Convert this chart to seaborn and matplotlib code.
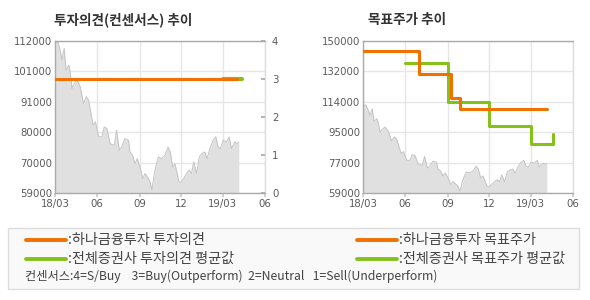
import matplotlib
matplotlib.use("Agg")
import matplotlib.pyplot as plt
import matplotlib.dates as mdates
from matplotlib.lines import Line2D
from matplotlib.patches import Rectangle
import seaborn as sns
import pandas as pd
import numpy as np

sns.set_theme(style="white")
plt.rcParams['font.family'] = ['Noto Sans CJK KR', 'DejaVu Sans']

# ---------------- data ----------------
price_dates = ['2018-03-02', '2018-03-07', '2018-03-13', '2018-03-16', '2018-03-21', '2018-03-25',
               '2018-03-31', '2018-04-03', '2018-04-07', '2018-04-12', '2018-04-18', '2018-04-25',
               '2018-05-02', '2018-05-08', '2018-05-13', '2018-05-17', '2018-05-23', '2018-05-28',
               '2018-06-04', '2018-06-11', '2018-06-16', '2018-06-22', '2018-06-29', '2018-07-08',
               '2018-07-13', '2018-07-19', '2018-07-24', '2018-07-31', '2018-08-08', '2018-08-11',
               '2018-08-17', '2018-08-22', '2018-08-27', '2018-09-02', '2018-09-08', '2018-09-13',
               '2018-09-18', '2018-09-23', '2018-09-28', '2018-10-03', '2018-10-07', '2018-10-12',
               '2018-10-19', '2018-10-26', '2018-11-02', '2018-11-07', '2018-11-12', '2018-11-17',
               '2018-11-22', '2018-11-26', '2018-12-01', '2018-12-06', '2018-12-12', '2018-12-18',
               '2018-12-23', '2018-12-28', '2019-01-03', '2019-01-09', '2019-01-14', '2019-01-21',
               '2019-01-26', '2019-02-01', '2019-02-08', '2019-02-14', '2019-02-19', '2019-02-24',
               '2019-03-02', '2019-03-09', '2019-03-15', '2019-03-20', '2019-03-27', '2019-04-01',
               '2019-04-05']
price_values = [111200, 111800, 108300, 105400, 109400, 101800,
                103600, 101300, 95400, 97200, 98400, 96000,
                90200, 92600, 91400, 87900, 82600, 83800,
                78600, 78600, 82000, 81500, 76200, 75600,
                80900, 73900, 75000, 78000, 77400, 73300,
                72100, 69200, 71000, 68000, 64000, 65800,
                64600, 63400, 60100, 65800, 68700, 71600,
                71000, 72100, 75000, 73300, 68000, 69200,
                65800, 62800, 62800, 64000, 65800, 67000,
                65800, 69900, 65800, 71600, 72700, 73300,
                71000, 74500, 77400, 78600, 75000, 74500,
                77400, 76800, 78600, 74500, 76800, 76200,
                76800]

# investment opinion (consensus scale 0-4)
hana_opinion_dates = ['2018-03-01', '2019-04-02']
hana_opinion_values = [3, 3]
avg_opinion_dates = ['2019-03-01', '2019-04-13']
avg_opinion_values = [3, 3]

# target price
hana_target_dates = ['2018-03-01', '2018-06-30', '2018-09-08', '2018-09-29', '2019-04-05']
hana_target_values = [144000, 130000, 116000, 109000, 109000]
avg_target_dates = ['2018-06-01', '2018-09-01', '2018-12-01', '2019-03-01', '2019-04-18']
avg_target_values = [137000, 113600, 99000, 88200, 94600]

x_tick_dates = ['2018-03-01', '2018-06-01', '2018-09-01', '2018-12-01', '2019-03-01', '2019-06-01']
x_tick_labels = ['18/03', '06', '09', '12', '19/03', '06']
left_y_labels = ['59000', '70000', '80000', '91000', '101000', '112000']
right_y_labels = ['59000', '77000', '95000', '114000', '132000', '150000']
opinion_ticks = [0, 1, 2, 3, 4]

titles = ['투자의견(컨센서스) 추이', '목표주가 추이']
legend_labels = [':하나금융투자 투자의견', ':전체증권사 투자의견 평균값',
                 ':하나금융투자 목표주가', ':전체증권사 목표주가 평균값']
consensus_note = '컨센서스:4=S/Buy    3=Buy(Outperform)  2=Neutral   1=Sell(Underperform)'

ORANGE = '#f07000'
GREEN = '#84c21a'
TICKC = '#5a5a5a'
TICKFONT = ['DejaVu Sans']
TICKSIZE = 7.3

price_df = pd.DataFrame({'date': pd.to_datetime(price_dates), 'price': price_values})
xt = pd.to_datetime(x_tick_dates)

fig = plt.figure(figsize=(5.9, 3.0), dpi=100)
fig.patch.set_facecolor('white')
axL = fig.add_axes([55 / 590, 1 - 193 / 300, 210 / 590, 152 / 300])
axR = fig.add_axes([363 / 590, 1 - 193 / 300, 210 / 590, 152 / 300])


def style_axes(ax, ylabels):
    lo, hi = float(ylabels[0]), float(ylabels[-1])
    ax.set_ylim(lo, hi)
    ax.set_xlim(xt[0], xt[-1])
    ax.set_xticks(xt)
    ax.set_xticklabels(x_tick_labels, family=TICKFONT, fontsize=TICKSIZE)
    ax.set_yticks(np.linspace(lo, hi, len(ylabels)))
    ax.set_yticklabels(ylabels, family=TICKFONT, fontsize=TICKSIZE)
    ax.grid(True, color='#e6e6e6', lw=1.0)
    ax.set_axisbelow(True)
    for s in ['left', 'bottom', 'top']:
        ax.spines[s].set_color('#aaaaaa')
        ax.spines[s].set_linewidth(1.0)
    ax.spines['right'].set_color('#dddddd')
    ax.spines['right'].set_linewidth(1.0)
    ax.tick_params(axis='y', length=0, labelcolor=TICKC, pad=2)
    ax.tick_params(axis='x', length=3, color='#cccccc', labelcolor=TICKC, pad=1, bottom=True)
    ax.set_xlabel('')
    ax.set_ylabel('')


for ax, ylabels in [(axL, left_y_labels), (axR, right_y_labels)]:
    ax.fill_between(price_df['date'], price_df['price'], float(ylabels[0]),
                    color='#e0e0e0', lw=0, zorder=1)
    sns.lineplot(data=price_df, x='date', y='price', ax=ax, color='#c4c4c4', lw=0.7, zorder=2)
    style_axes(ax, ylabels)

# secondary opinion axis
ax2 = axL.twinx()
ax2.set_ylim(0, 4)
ax2.set_yticks(opinion_ticks)
ax2.set_yticklabels([str(v) for v in opinion_ticks], family=TICKFONT, fontsize=TICKSIZE)
ax2.tick_params(axis='y', length=3, direction='in', color='#aaaaaa',
                labelcolor=TICKC, pad=5)
for s in ax2.spines.values():
    s.set_visible(False)
ax2.grid(False)
sns.lineplot(x=pd.to_datetime(avg_opinion_dates), y=avg_opinion_values, ax=ax2,
             color=GREEN, lw=3, zorder=3)
sns.lineplot(x=pd.to_datetime(hana_opinion_dates), y=hana_opinion_values, ax=ax2,
             color=ORANGE, lw=2.2, zorder=4)
ax2.set_xlim(xt[0], xt[-1])
ax2.set_ylabel('')

# target price lines
sns.lineplot(x=pd.to_datetime(hana_target_dates), y=hana_target_values, ax=axR,
             color=ORANGE, lw=2.2, drawstyle='steps-post', zorder=4)
sns.lineplot(x=pd.to_datetime(avg_target_dates), y=avg_target_values, ax=axR,
             color=GREEN, lw=2.2, drawstyle='steps-post', zorder=3)
style_axes(axR, right_y_labels)

# titles
fig.text(54 / 590, 1 - 20 / 300, titles[0], fontsize=9.8, fontweight='bold', color='#333333',
         va='center', ha='left')
fig.text(368 / 590, 1 - 20 / 300, titles[1], fontsize=9.8, fontweight='bold', color='#333333',
         va='center', ha='left')

# legend box
fig.add_artist(Rectangle((8 / 590, 1 - 289 / 300), 571 / 590, 61 / 300, transform=fig.transFigure,
                         facecolor='#f9f9f9', edgecolor='#dddddd', lw=1.0))
leg_items = [(26, 66, 68, 240, ORANGE, legend_labels[0]),
             (26, 66, 68, 259, GREEN, legend_labels[1]),
             (357, 397, 399, 240, ORANGE, legend_labels[2]),
             (357, 397, 399, 259, GREEN, legend_labels[3])]
for x0, x1, xt_, y, c, lab in leg_items:
    fig.add_artist(Line2D([x0 / 590, x1 / 590], [1 - y / 300, 1 - y / 300],
                          transform=fig.transFigure, color=c, lw=2.8))
    fig.text(xt_ / 590, 1 - y / 300, lab, fontsize=10.2, color='#444444', va='center', ha='left')
fig.text(25 / 590, 1 - 276 / 300, consensus_note, fontsize=8.8, color='#444444',
         va='center', ha='left')

fig.savefig('out.png', dpi=100, facecolor='white')
